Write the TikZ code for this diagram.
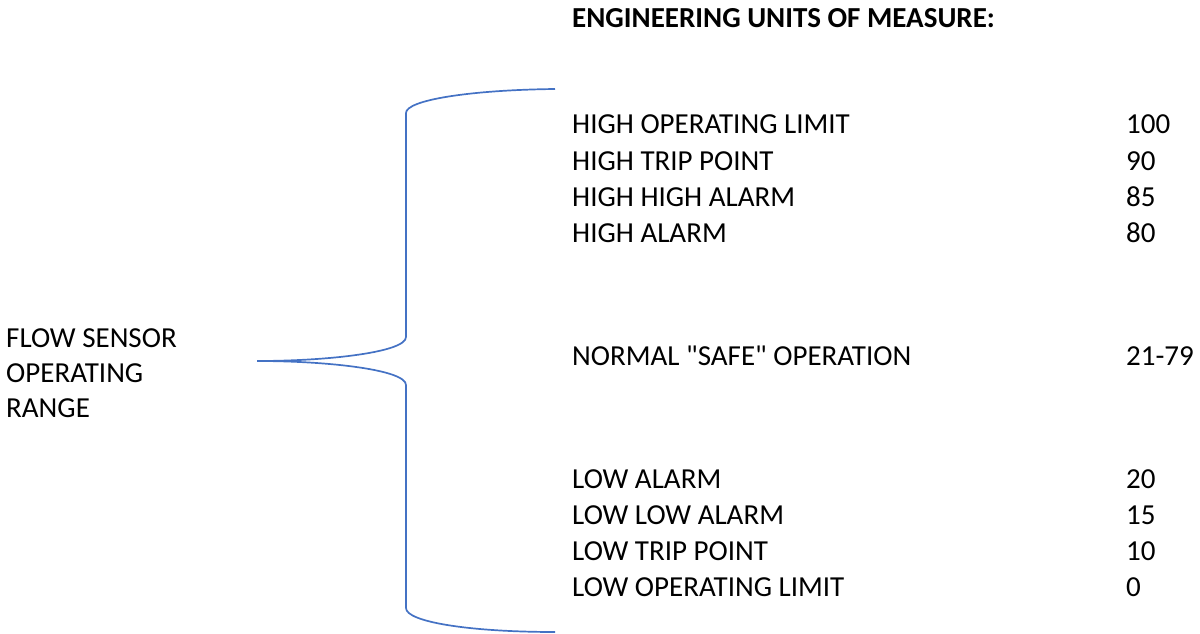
\documentclass[tikz,border=0pt]{standalone}
\usepackage{fontspec}
\setmainfont{Carlito}[Ligatures=TeXOff]
\definecolor{braceblue}{HTML}{4472C4}
\begin{document}
\begin{tikzpicture}[x=1pt,y=-1pt,
  lbl/.style={anchor=base west,inner sep=0pt,font=\fontsize{29}{35}\selectfont},
  hdr/.style={lbl,font=\fontsize{29}{35}\selectfont\bfseries},
  val/.style={lbl},
  bracecurve/.style={draw=braceblue,line width=1.7pt,line join=round}]
\useasboundingbox (0,0) rectangle (1200,634);
% heading
\node[hdr] (head) at (572,27.5) {ENGINEERING UNITS OF MEASURE:};
% left label (anchored at the baseline of its last line)
\node[lbl,align=left] (range) at (6,417) {FLOW SENSOR\\OPERATING\\RANGE};
% upper rows
\node[lbl] (hol) at (572,133.5) {HIGH OPERATING LIMIT};
\node[lbl] (htp) at (572,170.5) {HIGH TRIP POINT};
\node[lbl] (hha) at (572,206.5) {HIGH HIGH ALARM};
\node[lbl] (ha)  at (572,242.5) {HIGH ALARM};
\node[lbl] (nso) at (572,365.5) {NORMAL "SAFE" OPERATION};
\node[lbl] (la)  at (572,488.5) {LOW ALARM};
\node[lbl] (lla) at (572,524.5) {LOW LOW ALARM};
\node[lbl] (ltp) at (572,560.5) {LOW TRIP POINT};
\node[lbl] (lol) at (572,596.5) {LOW OPERATING LIMIT};
% values
\node[val] (vhol) at (1126,133.5) {100};
\node[val] (vhtp) at (1126,170.5) {90};
\node[val] (vhha) at (1126,206.5) {85};
\node[val] (vha)  at (1126,242.5) {80};
\node[val] (vnso) at (1126,365.5) {21-79};
\node[val] (vla)  at (1126,488.5) {20};
\node[val] (vlla) at (1126,524.5) {15};
\node[val] (vltp) at (1126,560.5) {10};
\node[val] (vlol) at (1126,596.5) {0};
% brace
\coordinate (btop) at (555,89);
\coordinate (btip) at (257,361);
\coordinate (bbot) at (555,632);
\draw[bracecurve] (btop) .. controls (470,90) and (406,100) .. (406,113)
  -- (406,337) .. controls (406,352) and (330,361) .. (btip);
\draw[bracecurve] (btip) .. controls (330,361) and (406,370) .. (406,385)
  -- (406,608) .. controls (406,622) and (470,632) .. (bbot);
\end{tikzpicture}
\end{document}
